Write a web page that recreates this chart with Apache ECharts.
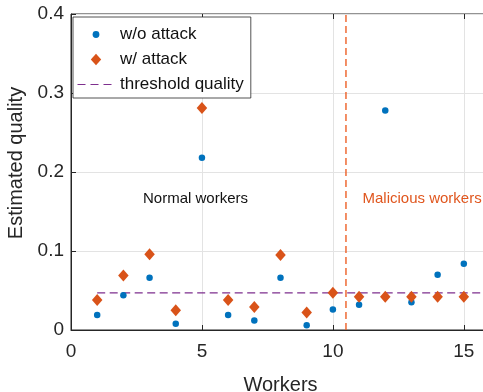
<!DOCTYPE html>
<html>
<head>
<meta charset="utf-8">
<script src="https://cdn.jsdelivr.net/npm/echarts@6.0.0/dist/echarts.min.js"></script>
<style>
  html, body { margin: 0; padding: 0; background: #ffffff; }
  #chart { width: 483px; height: 392px; }
</style>
</head>
<body>
<div id="chart"></div>
<script>
// Worker indices and the quality estimated for each of them
const workers = [1, 2, 3, 4, 5, 6, 7, 8, 9, 10, 11, 12, 13, 14, 15];
const qualityWithoutAttack = [0.019, 0.044, 0.066, 0.008, 0.218, 0.019, 0.012, 0.066, 0.006, 0.026, 0.032, 0.278, 0.035, 0.070, 0.084];
const qualityWithAttack = [0.038, 0.069, 0.096, 0.025, 0.281, 0.038, 0.029, 0.095, 0.022, 0.047, 0.042, 0.042, 0.042, 0.042, 0.042];

// Threshold quality and where it is drawn along the worker axis
const thresholdQuality = 0.047;
const thresholdFrom = 1;
const thresholdTo = 16;

// Boundary between normal and malicious workers
const splitWorker = 10.5;

// Axis ranges
const xRange = [0, 16];
const yRange = [0, 0.4];

const seriesNames = ['w/o attack', 'w/ attack', 'threshold quality'];
const groupNames = ['Normal workers', 'Malicious workers'];

const BLUE = '#0072BD';
const ORANGE = '#D95319';
const PURPLE = '#7E2F8E';
const SPLIT = '#EE5F25';
const AXIS = '#262626';
const FONT = 'Liberation Sans, Arial, Helvetica, sans-serif';

const pointsWithout = workers.map((w, i) => [w, qualityWithoutAttack[i]]);
const pointsWith = workers.map((w, i) => [w, qualityWithAttack[i]]);

// Legend icons sized to the full 38x14 item box so the marker keeps its size
const box = 'M0 0M38 14';
const iconDot = 'path://' + box + 'M22.4 7A3.4 3.4 0 1 1 15.6 7A3.4 3.4 0 1 1 22.4 7Z';
const iconDiamond = 'path://' + box + 'M19 1.2L24.2 7L19 12.8L13.8 7Z';
const iconDash = 'path://' + box + 'M0.5 6.4H8.5V7.6H0.5ZM13.5 6.4H21.5V7.6H13.5ZM26.5 6.4H34.5V7.6H26.5Z';

const chart = echarts.init(document.getElementById('chart'), null, { renderer: 'canvas' });

chart.setOption({
  animation: false,
  backgroundColor: '#ffffff',
  textStyle: { fontFamily: FONT },
  grid: {
    left: 71, top: 14, right: -7, bottom: 62,
    containLabel: false,
    outerBoundsMode: 'none',
    show: true,
    borderColor: AXIS,
    borderWidth: 1,
    backgroundColor: 'transparent'
  },
  legend: {
    orient: 'vertical',
    left: 73, top: 17,
    padding: [9, 7, 5, 4],
    itemWidth: 38, itemHeight: 14, itemGap: 8,
    backgroundColor: '#ffffff',
    borderColor: AXIS, borderWidth: 0.8, borderRadius: 0,
    selectedMode: false,
    itemStyle: { opacity: 1 },
    textStyle: { fontSize: 17, color: '#111111', fontFamily: FONT },
    data: [
      { name: seriesNames[0], icon: iconDot, itemStyle: { color: BLUE, opacity: 1 } },
      { name: seriesNames[1], icon: iconDiamond, itemStyle: { color: ORANGE, opacity: 1 } },
      { name: seriesNames[2], icon: iconDash, itemStyle: { color: PURPLE, opacity: 1 } }
    ]
  },
  xAxis: [{
    type: 'value',
    min: xRange[0], max: xRange[1], interval: 5,
    name: 'Workers',
    nameLocation: 'middle',
    nameGap: 45,
    nameTextStyle: { fontSize: 20, color: AXIS, fontFamily: FONT },
    axisLine: { show: true, lineStyle: { color: AXIS, width: 1 } },
    axisTick: { show: true, inside: true, length: 5, lineStyle: { color: AXIS } },
    axisLabel: { fontSize: 19, color: AXIS, margin: 12, showMaxLabel: false, fontFamily: FONT },
    splitLine: { show: true, lineStyle: { color: '#e3e3e3', width: 1 } }
  }, {
    type: 'value',
    position: 'top',
    min: xRange[0], max: xRange[1], interval: 5,
    axisLine: { show: false },
    axisTick: { show: true, inside: true, length: 5, lineStyle: { color: AXIS } },
    axisLabel: { show: false },
    splitLine: { show: false }
  }],
  yAxis: {
    type: 'value',
    min: yRange[0], max: yRange[1], interval: 0.1,
    name: 'Estimated quality',
    nameLocation: 'middle',
    nameGap: 41,
    nameTextStyle: { fontSize: 20, color: AXIS, fontFamily: FONT, padding: [0, 0, 0, 18] },
    axisLine: { show: true, lineStyle: { color: AXIS, width: 1 } },
    axisTick: { show: true, inside: true, length: 5, lineStyle: { color: AXIS } },
    axisLabel: { fontSize: 19, color: AXIS, margin: 7, fontFamily: FONT },
    splitLine: { show: true, lineStyle: { color: '#e3e3e3', width: 1 } }
  },
  series: [
    {
      name: seriesNames[2],
      type: 'line',
      color: PURPLE,
      symbol: 'none',
      silent: true,
      z: 2,
      lineStyle: { color: PURPLE, width: 1.2, type: [8, 4.5], opacity: 1 },
      data: [[thresholdFrom, thresholdQuality], [thresholdTo, thresholdQuality]]
    },
    {
      name: 'split',
      type: 'line',
      color: SPLIT,
      symbol: 'none',
      silent: true,
      z: 2,
      lineStyle: { color: SPLIT, width: 1.4, type: [7, 4], opacity: 1 },
      data: [[splitWorker, yRange[0]], [splitWorker, yRange[1]]]
    },
    {
      name: seriesNames[0],
      type: 'scatter',
      color: BLUE,
      symbol: 'circle',
      symbolSize: 6.5,
      z: 3,
      itemStyle: { color: BLUE, opacity: 1 },
      data: pointsWithout
    },
    {
      name: seriesNames[1],
      type: 'scatter',
      color: ORANGE,
      symbol: 'diamond',
      symbolSize: [10.5, 12],
      z: 4,
      itemStyle: { color: ORANGE, opacity: 1 },
      data: pointsWith
    },
    {
      name: 'groups',
      type: 'scatter',
      symbolSize: 0,
      silent: true,
      z: 5,
      itemStyle: { opacity: 1 },
      label: {
        show: true,
        position: 'right',
        distance: 0,
        fontSize: 15,
        fontFamily: FONT,
        opacity: 1
      },
      data: [
        { value: [2.75, 0.166], label: { color: '#111111', formatter: groupNames[0] } },
        { value: [11.13, 0.166], label: { color: '#E0561E', formatter: groupNames[1] } }
      ]
    }
  ]
});
</script>
</body>
</html>
